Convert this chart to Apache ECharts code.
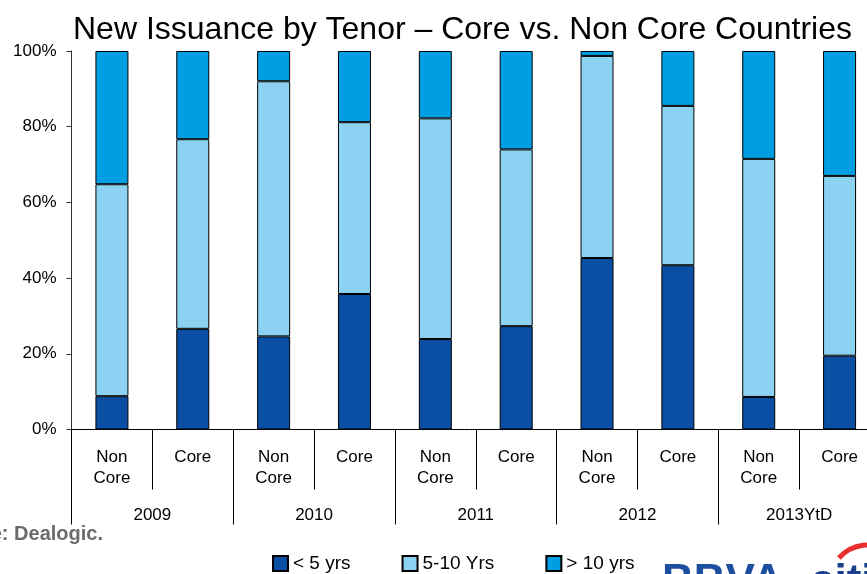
<!DOCTYPE html>
<html>
<head>
<meta charset="utf-8">
<script src="https://cdn.jsdelivr.net/npm/echarts@6/dist/echarts.min.js"></script>
<style>html,body{margin:0;padding:0;background:#fff}#c{width:867px;height:574px}</style>
</head>
<body>
<div id="c"></div>
<script>
var categories = ['Non\nCore','Core','Non\nCore','Core','Non\nCore','Core','Non\nCore','Core','Non\nCore','Core'];
var years = ['2009','2010','2011','2012','2013YtD'];
var under5 = [8.8, 26.6, 24.6, 35.8, 23.9, 27.3, 45.3, 43.4, 8.6, 19.5];
var fiveTo10 = [56.0, 50.1, 67.4, 45.4, 58.3, 46.7, 53.4, 42.1, 62.9, 47.5];
var over10 = [35.2, 23.3, 8.0, 18.8, 17.8, 26.0, 1.3, 14.5, 28.5, 33.0];
var yTicks = [0, 20, 40, 60, 80, 100];
var seriesNames = ['< 5 yrs', '5-10 Yrs', '> 10 yrs'];

var FONT = 'Liberation Sans, Arial, sans-serif';
var colors = ['#0a4fa3', '#8cd2f2', '#009ee3'];
var chart = echarts.init(document.getElementById('c'), null, {renderer: 'canvas'});
function bar(name, data, color) {
  return {
    name: name, type: 'bar', stack: 'total', data: data, barWidth: 33,
    xAxisIndex: 0,
    itemStyle: {color: color, borderColor: '#000', borderWidth: 1},
    emphasis: {disabled: true}
  };
}
chart.setOption({
  animation: false,
  textStyle: {fontFamily: FONT},
  title: {
    text: 'New Issuance by Tenor \u2013 Core vs. Non Core Countries',
    left: 68, top: 9,
    textStyle: {fontSize: 32, fontWeight: 'normal', color: '#000', fontFamily: FONT}
  },
  grid: {left: 71.5, width: 808.5, top: 51, height: 378.5, containLabel: false, outerBoundsMode: 'none'},
  legend: {
    data: seriesNames,
    left: 267, top: 549,
    itemWidth: 15, itemHeight: 15, itemGap: 51,
    icon: 'rect',
    textStyle: {fontSize: 19, color: '#000', fontFamily: FONT}
  },
  xAxis: [{
    type: 'category', data: categories, position: 'bottom',
    axisLine: {show: true, lineStyle: {color: '#000', width: 1}},
    axisTick: {show: true, interval: 0, length: 60, lineStyle: {color: '#000'}},
    axisLabel: {interval: 0, margin: 17, fontSize: 17, lineHeight: 21, color: '#000', fontFamily: FONT},
    splitLine: {show: false}
  }, {
    type: 'category', data: years, position: 'bottom',
    axisLine: {show: false},
    axisTick: {show: true, interval: 0, length: 95, lineStyle: {color: '#000'}},
    axisLabel: {interval: 0, margin: 77, fontSize: 17, color: '#000', fontFamily: FONT},
    splitLine: {show: false}
  }],
  yAxis: {
    type: 'value', min: 0, max: 100, interval: 20,
    axisLine: {show: true, lineStyle: {color: '#333', width: 1}},
    axisTick: {show: true, length: 5, lineStyle: {color: '#333'}},
    axisLabel: {formatter: function(v){ return yTicks.indexOf(v) >= 0 ? v + '%' : ''; }, fontSize: 17, color: '#000', margin: 15, fontFamily: FONT},
    splitLine: {show: false}
  },
  series: [
    bar(seriesNames[0], under5, colors[0]),
    bar(seriesNames[1], fiveTo10, colors[1]),
    bar(seriesNames[2], over10, colors[2])
  ],
  graphic: [
    {type: 'text', right: 867 - 103, top: 524,
     style: {text: 'Source: Dealogic.', fontSize: 20, fontWeight: 'bold', fill: '#6b6b6b', fontFamily: FONT}},
    {type: 'text', left: 662, top: 561,
     style: {text: 'BBVA', fontSize: 44, fontWeight: 'bold', fill: '#1c4f9e', fontFamily: FONT}},
    {type: 'text', left: 810, top: 561,
     style: {text: 'citi', fontSize: 44, fontWeight: 'bold', fill: '#1a3f8c', fontFamily: FONT}},
    {type: 'arc', shape: {cx: 868, cy: 584, r: 39, startAngle: 3.87, endAngle: 5.3},
     style: {stroke: '#e8312f', lineWidth: 5, fill: null}}
  ]
});
</script>
</body>
</html>
